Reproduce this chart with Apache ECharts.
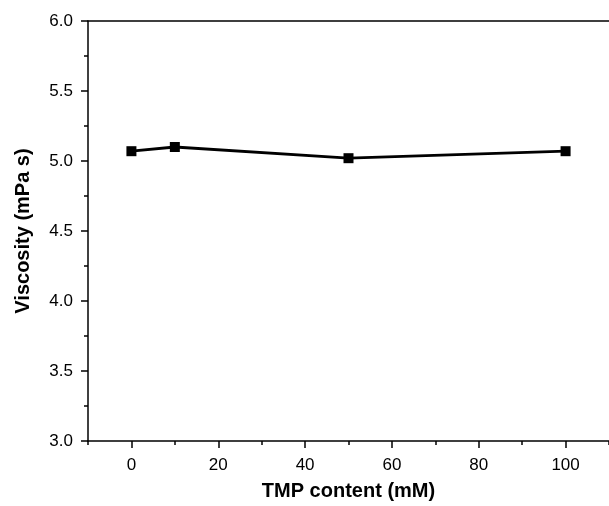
<!DOCTYPE html>
<html><head><meta charset="utf-8">
<script src="https://cdn.jsdelivr.net/npm/echarts@6/dist/echarts.min.js"></script>
<style>html,body{margin:0;padding:0;background:#fff}#c{width:609px;height:506px}</style>
</head><body><div id="c"></div>
<script>
const tmpContent = [0, 10, 50, 100];
const viscosity = [5.07, 5.10, 5.02, 5.07];
const xMajorTicks = [0, 20, 40, 60, 80, 100];
const xMinorTicks = [-10, 10, 30, 50, 70, 90, 110];
const xTitle = 'TMP content (mM)';
const yTitle = 'Viscosity (mPa s)';

const font = '"Liberation Sans", Arial, sans-serif';
const chart = echarts.init(document.getElementById('c'), null, {renderer: 'canvas'});
chart.setOption({
  backgroundColor: '#ffffff',
  animation: false,
  grid: {left: 88, top: 21, width: 523, height: 422},
  xAxis: [
    {
      type: 'value', min: -10, max: 110, interval: 10, position: 'bottom',
      axisLine: {onZero: false, lineStyle: {color: '#000', width: 1.5}},
      axisTick: {customValues: xMajorTicks, length: 7, lineStyle: {color: '#000', width: 1.5}},
      axisLabel: {customValues: xMajorTicks, color: '#000', fontSize: 17, fontFamily: font, margin: 16},
      splitLine: {show: false},
      name: xTitle, nameLocation: 'middle', nameGap: 40,
      nameTextStyle: {color: '#000', fontSize: 20, fontWeight: 'bold', fontFamily: font}
    },
    {
      type: 'value', min: -10, max: 110, interval: 10, position: 'bottom',
      axisLine: {show: false, onZero: false},
      axisTick: {customValues: xMinorTicks, length: 4, lineStyle: {color: '#000', width: 1.5}},
      axisLabel: {show: false},
      splitLine: {show: false}
    },
    {
      type: 'value', min: -10, max: 110, position: 'top',
      axisLine: {onZero: false, lineStyle: {color: '#000', width: 1.5}},
      axisTick: {show: false}, axisLabel: {show: false}, splitLine: {show: false}
    }
  ],
  yAxis: {
    type: 'value', min: 3, max: 6, interval: 0.5,
    axisLine: {show: true, onZero: false, lineStyle: {color: '#000', width: 1.5}},
    axisTick: {show: true, length: 7, lineStyle: {color: '#000', width: 1.5}},
    minorTick: {show: true, splitNumber: 2, length: 4, lineStyle: {color: '#000', width: 1.5}},
    axisLabel: {color: '#000', fontSize: 17, fontFamily: font, margin: 15, formatter: v => v.toFixed(1)},
    splitLine: {show: false},
    name: yTitle, nameLocation: 'middle', nameGap: 55,
    nameTextStyle: {color: '#000', fontSize: 20, fontWeight: 'bold', fontFamily: font}
  },
  series: [{
    type: 'line', xAxisIndex: 0,
    data: tmpContent.map((x, i) => [x, viscosity[i]]),
    symbol: 'rect', symbolSize: 10,
    lineStyle: {color: '#000', width: 2.8},
    itemStyle: {color: '#000'}
  }]
});
</script></body></html>
